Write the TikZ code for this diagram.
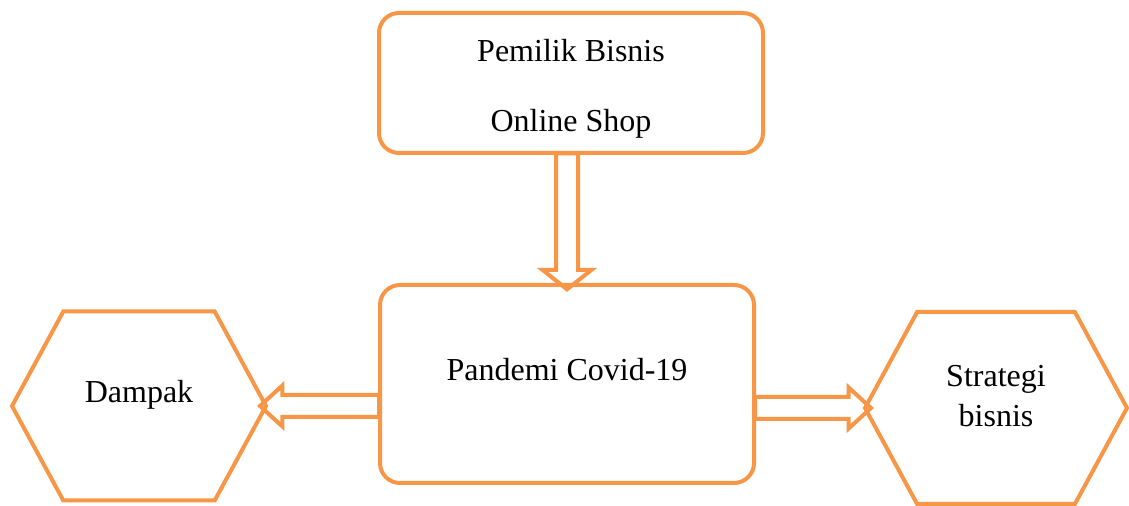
\documentclass[tikz,border=0pt]{standalone}
\usepackage{fontspec}
\setmainfont{Liberation Serif}
\usetikzlibrary{shapes.symbols,shapes.arrows,calc}
\definecolor{accentorange}{HTML}{F79646}

\begin{document}
\begin{tikzpicture}[x=0.5pt, y=-0.5pt, line width=2pt,
    roundbox/.style={draw=accentorange, rounded corners=10pt, outer sep=0pt},
    hexa/.style={signal, signal to=west and east, signal pointer angle=123, draw=accentorange,
        inner sep=0pt, outer sep=0pt},
    boxtext/.style={font=\fontsize{16}{20}\selectfont, align=center},
    blockarrow/.style={single arrow, draw=accentorange, inner xsep=0pt, inner ysep=4.5pt,
        single arrow head extend=4.75pt, single arrow tip angle=85, sloped, allow upside down}
  ]
    \useasboundingbox (0,0) rectangle (1129,506);

    % Define the nodes
    \node[roundbox, minimum width=192pt, minimum height=70pt] (owner) at (571,83) {};
    \node[roundbox, minimum width=187pt, minimum height=99pt] (pandemi) at (567,384) {};
    \node[hexa, minimum width=127pt, minimum height=94.5pt] (dampak) at (139,406) {};
    \node[hexa, minimum width=131pt, minimum height=96pt] (strategi) at (996,408) {};

    % Texts inside the shapes
    \node[boxtext] (ownertext) at ([yshift=-3pt]owner.center) {Pemilik Bisnis\\[15pt]Online Shop};
    \node[boxtext] (pandemitext) at ([yshift=7pt]pandemi.center) {Pandemi Covid-19};
    \node[boxtext] (dampaktext) at ([yshift=5.5pt]dampak.center) {Dampak};
    \node[boxtext] (strategitext) at ([yshift=6pt]strategi.center) {Strategi\\bisnis};

    % Define the arrows (bases start on the box lines)
    \coordinate (downstart) at ([yshift=2pt]owner.south -| pandemi.north);
    \coordinate (leftstart) at ([xshift=2.5pt]pandemi.west |- dampak.east);
    \coordinate (rightstart) at ([xshift=-2.5pt]pandemi.east |- strategi.west);
    \path let \p1=($(downstart)-(pandemi.north)$), \n1={veclen(\x1,\y1)} in
        (downstart) -- node[blockarrow, minimum height=\n1, single arrow head extend=6.75pt,
            single arrow tip angle=103] (arrowdown) {} (pandemi.north);
    \path let \p1=($(leftstart)-(dampak.east)$), \n1={veclen(\x1,\y1)} in
        (leftstart) -- node[blockarrow, minimum height=\n1] (arrowleft) {} (dampak.east);
    \path let \p1=($(rightstart)-(strategi.west)$), \n1={veclen(\x1,\y1)} in
        (rightstart) -- node[blockarrow, minimum height=\n1] (arrowright) {} (strategi.west);

\end{tikzpicture}
\end{document}
